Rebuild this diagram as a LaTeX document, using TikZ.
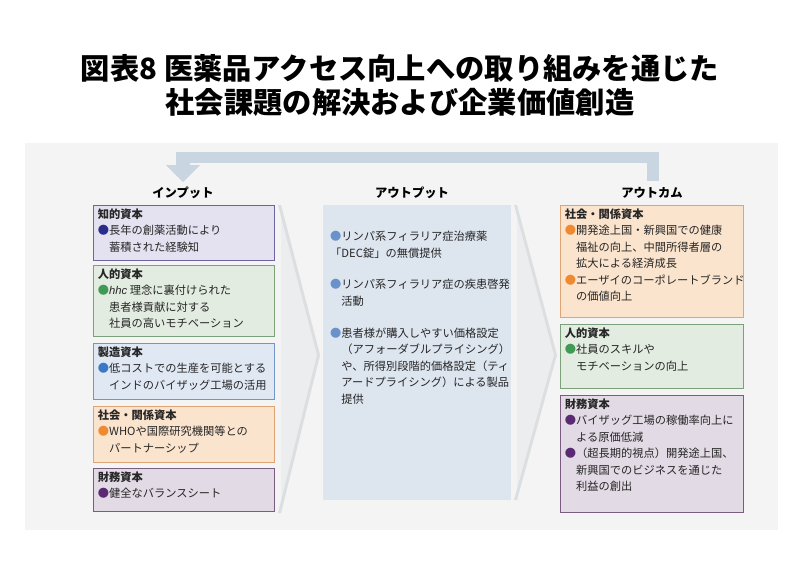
\documentclass[tikz,border=0pt]{standalone}
\usepackage{fontspec}
\setmainfont{Noto Sans CJK JP}
\newfontfamily\latinit{Liberation Sans}
\usetikzlibrary{positioning}
\definecolor{bandc}{HTML}{C9D5E0}
\definecolor{panelc}{HTML}{F4F4F4}
\definecolor{chevc}{HTML}{DCDFE2}
\definecolor{outc}{HTML}{DDE5EF}
\definecolor{purf}{HTML}{E4E1F0}\definecolor{purd}{HTML}{6E649E}\definecolor{purb}{HTML}{2B2B8C}
\definecolor{grnf}{HTML}{E2ECE0}\definecolor{grnd}{HTML}{7BA07A}\definecolor{grnb}{HTML}{3E9A55}
\definecolor{bluf}{HTML}{E0E8F4}\definecolor{blud}{HTML}{7394C4}\definecolor{blub}{HTML}{3A7AC4}
\definecolor{orgf}{HTML}{FBE4CE}\definecolor{orgd}{HTML}{DDA475}\definecolor{orgb}{HTML}{F08A30}
\definecolor{mauf}{HTML}{E2DAE5}\definecolor{maud}{HTML}{7A5C80}\definecolor{maub}{HTML}{5A2A72}
\definecolor{outb}{HTML}{6A92CA}
\newcommand{\bul}[1]{\textcolor{#1}{●}}
\newcommand{\ind}{\hspace*{1em}}
\tikzset{
  capbox/.style={draw=#1, line width=1pt, anchor=north west, inner sep=0pt},
  captext/.style={anchor=north west, align=left, inner sep=0pt, text=black!85,
    font=\fontsize{9.6}{14.1}\selectfont},
  head/.style={font=\bfseries\fontsize{10.5}{12}\selectfont},
}
\newcommand{\capbox}[8]{%
  \node[capbox=#6, fill=#7, minimum width=#4*0.03cm, minimum height=#5*0.03cm] (#1) at (#2,#3) {};
  \node[captext] (#1t) at ([xshift=4pt,yshift=-3pt]#1.north west) {#8};}
\begin{document}
\begin{tikzpicture}[x=0.03cm, y=-0.03cm]
\useasboundingbox (0,0) rectangle (800,574);
\fill[white] (0,0) rectangle (800,574);
% title
\node[font=\bfseries\fontsize{25}{29}\selectfont, align=center] (title) at (400,85)
  {図表8 医薬品アクセス向上への取り組みを通じた\\社会課題の解決および企業価値創造};
\fill[panelc] (25,143) rectangle (778,530);
% feedback band
\fill[bandc] (647,152) rectangle (659,181);
\fill[bandc] (176,152) rectangle (659,163);
\fill[bandc] (176,152) rectangle (190,168);
\fill[bandc] (166,165) -- (200,165) -- (183,182) -- cycle;
% headings
\node[head] (hin) at (183,193) {インプット};
\node[head] (hout) at (412,193) {アウトプット};
\node[head] (hoc) at (652,193) {アウトカム};
% chevrons
\fill[chevc!55] (281,205) -- (320,355) -- (281,513) -- cycle;
\fill[chevc!55] (517,205) -- (554,355) -- (517,500) -- cycle;
\fill[chevc] (281,205) -- (320,355) -- (281,513) -- (278,513) -- (317,355) -- (278,205) -- cycle;
\fill[chevc] (514,205) -- (554,355) -- (514,500) -- (517,500) -- (557,355) -- (517,205) -- cycle;
% inputs
\capbox{inA}{93}{205}{181}{55}{purd}{purf}{\textbf{知的資本}\\\bul{purb}長年の創薬活動により\\\ind 蓄積された経験知}
\capbox{inB}{93}{265}{181}{71}{grnd}{grnf}{\textbf{人的資本}\\\bul{grnb}{\latinit\itshape hhc} 理念に裏付けられた\\\ind 患者様貢献に対する\\\ind 社員の高いモチベーション}
\capbox{inC}{93}{343}{181}{56}{blud}{bluf}{\textbf{製造資本}\\\bul{blub}低コストでの生産を可能とする\\\ind インドのバイザッグ工場の活用}
\capbox{inD}{93}{406}{181}{56}{orgd}{orgf}{\textbf{社会・関係資本}\\\bul{orgb}WHOや国際研究機関等との\\\ind パートナーシップ}
\capbox{inE}{93}{468}{181}{43}{maud}{mauf}{\textbf{財務資本}\\\bul{maub}健全なバランスシート}
% output
\node[anchor=north west, fill=outc, minimum width=188*0.03cm, minimum height=295*0.03cm, inner sep=0pt] (out) at (323,205) {};
\node[captext] (outt) at (330,231) {\bul{outb}リンパ系フィラリア症治療薬\\「DEC錠」の無償提供\\[13pt]\bul{outb}リンパ系フィラリア症の疾患啓発\\\ind 活動\\[13pt]\bul{outb}患者様が購入しやすい価格設定\\\ind（アフォーダブルプライシング）\\\ind や、所得別段階的価格設定（ティ\\\ind アードプライシング）による製品\\\ind 提供};
% outcomes
\capbox{ocA}{560}{205}{183}{112}{orgd}{orgf}{\textbf{社会・関係資本}\\\bul{orgb}開発途上国・新興国での健康\\\ind 福祉の向上、中間所得者層の\\\ind 拡大による経済成長\\\bul{orgb}エーザイのコーポレートブランド\\\ind の価値向上}
\capbox{ocB}{560}{324}{183}{64}{grnd}{grnf}{\textbf{人的資本}\\\bul{grnb}社員のスキルや\\\ind モチベーションの向上}
\capbox{ocC}{560}{395}{183}{117}{maud}{mauf}{\textbf{財務資本}\\\bul{maub}バイザッグ工場の稼働率向上に\\\ind よる原価低減\\\bul{maub}（超長期的視点）開発途上国、\\\ind 新興国でのビジネスを通じた\\\ind 利益の創出}
\end{tikzpicture}
\end{document}
